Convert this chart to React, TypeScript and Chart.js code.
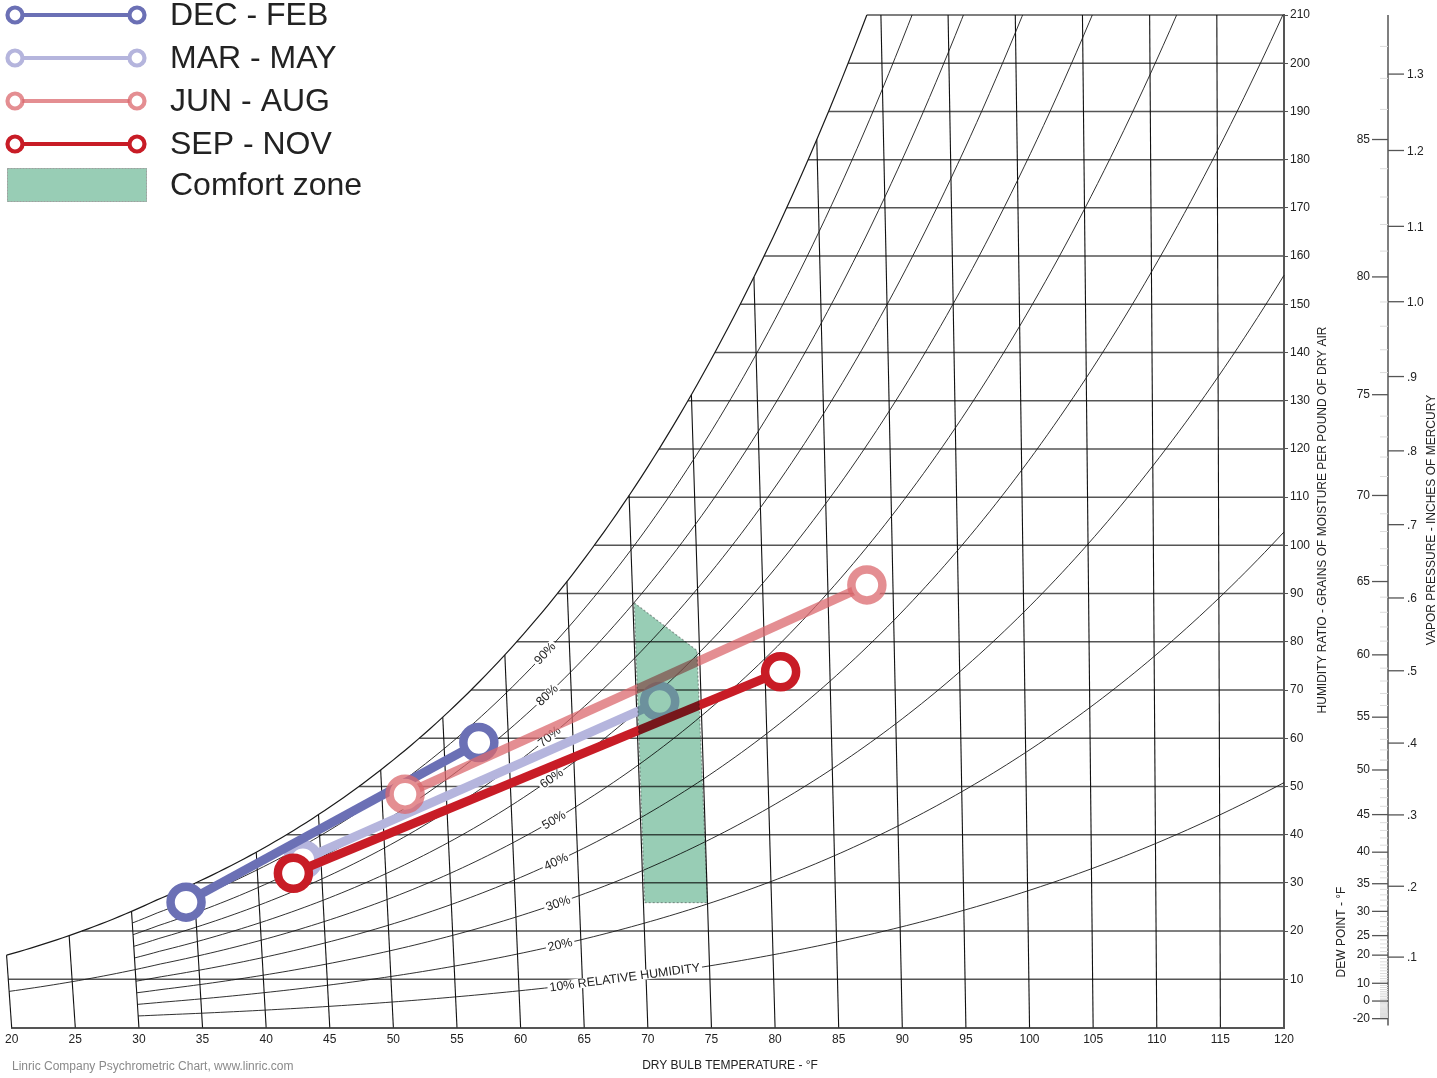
import React, { useEffect, useRef } from 'react';
import { Chart, registerables } from 'chart.js';

Chart.register(...registerables);

// ---------------- data ----------------
const SEASONS = ['DEC - FEB', 'MAR - MAY', 'JUN - AUG', 'SEP - NOV'];
const SEASON_COLORS = ['rgb(107,112,181)', 'rgb(181,181,221)', 'rgba(219,104,110,0.75)', 'rgb(200,28,38)'];
const SEASON_DRAW_ORDER = [3, 4, 2, 1];
// dry bulb (°F) and humidity ratio (grains/lb) of each season's two end points
const START_DRY_BULB = [34.3, 43.6, 51.8, 42.8];
const START_GRAINS = [26.0, 34.8, 48.4, 32.0];
const END_DRY_BULB = [57.7, 71.8, 88.0, 81.2];
const END_GRAINS = [59.1, 67.6, 91.8, 73.8];

const COMFORT_LABEL = 'Comfort zone';
const COMFORT_DRY_BULB = [70.1, 74.8, 75.0, 70.1];
const COMFORT_GRAINS = [88.1, 78.2, 25.9, 25.9];

// chart furniture
const DRY_BULB_LINES = [20, 25, 30, 35, 40, 45, 50, 55, 60, 65, 70, 75, 80, 85, 90, 95, 100, 105, 110, 115];
const GRAIN_LINES = [10, 20, 30, 40, 50, 60, 70, 80, 90, 100, 110, 120, 130, 140, 150, 160, 170, 180, 190, 200, 210];
const RH_CURVES = [10, 20, 30, 40, 50, 60, 70, 80, 90];
const RH_CURVE_START = [30, 30, 30, 30, 20, 30, 30, 30, 30];
const RH_LABEL_DRY_BULB = 62.4;
const DEW_POINT_TICKS = [-20, 0, 10, 20, 25, 30, 35, 40, 45, 50, 55, 60, 65, 70, 75, 80, 85];
const VAPOR_PRESSURE_TICKS = [0.1, 0.2, 0.3, 0.4, 0.5, 0.6, 0.7, 0.8, 0.9, 1.0, 1.1, 1.2, 1.3];

const T_MIN = 20;
const T_MAX = 120;
const W_MAX = 210;
const P_ATM = 14.696; // psia
const SKEW = 0.000267; // dry-bulb lines lean on this chart

const FONT = "'Liberation Sans', Arial, Helvetica, sans-serif";

// ---------------- psychrometrics ----------------
function satPressurePsia(tF: number): number {
  const T = tF + 459.67;
  if (tF < 32) {
    return Math.exp(
      -1.0214165e4 / T - 4.8932428 - 5.3765794e-3 * T + 1.9202377e-7 * T * T +
        3.5575832e-10 * T ** 3 - 9.0344688e-14 * T ** 4 + 4.1635019 * Math.log(T)
    );
  }
  return Math.exp(
    -1.0440397e4 / T - 1.129465e1 - 2.7022355e-2 * T + 1.289036e-5 * T * T -
      2.4780681e-9 * T ** 3 + 6.5459673 * Math.log(T)
  );
}
const grainsFromPw = (pw: number) => (7000 * 0.621945 * pw) / (P_ATM - pw);
const grainsAt = (tF: number, rh: number) => grainsFromPw(rh * satPressurePsia(tF));
function dewPoint(w: number): number {
  let lo = -60, hi = 130;
  for (let i = 0; i < 60; i++) {
    const mid = (lo + hi) / 2;
    if (grainsAt(mid, 1) < w) lo = mid; else hi = mid;
  }
  return (lo + hi) / 2;
}
const chartX = (tF: number, w: number) => tF - SKEW * (T_MAX - tF) * w;

function rhCurve(rh: number, tStart: number): [number, number][] {
  const pts: [number, number][] = [];
  const step = 0.5;
  for (let t = tStart; t <= T_MAX + 1e-9; t += step) {
    const w = grainsAt(t, rh);
    if (w > W_MAX) {
      let lo = t - step, hi = t;
      for (let i = 0; i < 40; i++) {
        const mid = (lo + hi) / 2;
        if (grainsAt(mid, rh) < W_MAX) lo = mid; else hi = mid;
      }
      pts.push([(lo + hi) / 2, W_MAX]);
      break;
    }
    pts.push([t, w]);
  }
  return pts;
}

// ---------------- drawing plugin ----------------
const psychroPlugin = {
  id: 'psychro',
  beforeDatasetsDraw(chart: any) {
    const { ctx } = chart;
    const xs = chart.scales.x, ys = chart.scales.y;
    const pt = (t: number, w: number): [number, number] => [xs.getPixelForValue(chartX(t, w)), ys.getPixelForValue(w)];
    ctx.save();

    // humidity-ratio lines
    ctx.strokeStyle = '#555';
    ctx.lineWidth = 1.5;
    for (const w of GRAIN_LINES) {
      const t0 = Math.max(dewPoint(w), T_MIN);
      const [x0, y0] = pt(t0, w);
      const [x1] = pt(T_MAX, w);
      ctx.beginPath();
      ctx.moveTo(x0, y0);
      ctx.lineTo(x1, y0);
      ctx.stroke();
    }

    // dry-bulb lines
    ctx.strokeStyle = '#111';
    ctx.lineWidth = 1.1;
    for (const t of DRY_BULB_LINES) {
      const wTop = Math.min(grainsAt(t, 1), W_MAX);
      const [x0, y0] = pt(t, 0);
      const [x1, y1] = pt(t, wTop);
      ctx.beginPath();
      ctx.moveTo(x0, y0);
      ctx.lineTo(x1, y1);
      ctx.stroke();
    }

    // relative humidity curves
    const drawCurve = (pts: [number, number][]) => {
      ctx.beginPath();
      pts.forEach(([t, w], i) => {
        const [x, y] = pt(t, w);
        if (i === 0) ctx.moveTo(x, y); else ctx.lineTo(x, y);
      });
      ctx.stroke();
    };
    ctx.strokeStyle = '#1a1a1a';
    ctx.lineWidth = 0.9;
    RH_CURVES.forEach((rh, i) => drawCurve(rhCurve(rh / 100, RH_CURVE_START[i])));
    // saturation curve
    ctx.lineWidth = 1.2;
    drawCurve(rhCurve(1, T_MIN));

    // RH labels
    ctx.font = `12.5px ${FONT}`;
    RH_CURVES.forEach((rh) => {
      const text = rh === 10 ? '10% RELATIVE HUMIDITY' : `${rh}%`;
      const tw = ctx.measureText(text).width;
      const [x0, y0] = pt(RH_LABEL_DRY_BULB, grainsAt(RH_LABEL_DRY_BULB, rh / 100));
      let t1 = RH_LABEL_DRY_BULB, x1 = x0, y1 = y0;
      while (Math.hypot(x1 - x0, y1 - y0) < tw && t1 < T_MAX) {
        t1 += 0.05;
        [x1, y1] = pt(t1, grainsAt(t1, rh / 100));
      }
      const ang = Math.atan2(y1 - y0, x1 - x0);
      ctx.save();
      ctx.translate(x0, y0);
      ctx.rotate(ang);
      ctx.fillStyle = '#fff';
      ctx.fillRect(-2, -5, tw + 4, 10);
      ctx.fillStyle = '#222';
      ctx.textAlign = 'left';
      ctx.textBaseline = 'middle';
      ctx.fillText(text, 0, 0.5);
      ctx.restore();
    });
    ctx.restore();
  },

  afterDatasetsDraw(chart: any) {
    const { ctx } = chart;
    const xs = chart.scales.x, ys = chart.scales.y;
    ctx.save();
    ctx.globalCompositeOperation = 'multiply';
    ctx.beginPath();
    COMFORT_DRY_BULB.forEach((t, i) => {
      const w = COMFORT_GRAINS[i];
      const x = xs.getPixelForValue(chartX(t, w));
      const y = ys.getPixelForValue(w);
      if (i === 0) ctx.moveTo(x, y); else ctx.lineTo(x, y);
    });
    ctx.closePath();
    ctx.fillStyle = 'rgb(152,205,181)';
    ctx.fill();
    ctx.setLineDash([2, 2]);
    ctx.strokeStyle = '#a9a9a9';
    ctx.lineWidth = 1.2;
    ctx.stroke();
    ctx.restore();
  },

  afterDraw(chart: any) {
    const { ctx, chartArea } = chart;
    const ys = chart.scales.y;
    ctx.save();

    // dew point / vapor pressure axis
    const ax = chartArea.right + 104;
    ctx.strokeStyle = '#555';
    ctx.lineWidth = 1.5;
    ctx.beginPath();
    ctx.moveTo(ax, chartArea.top);
    ctx.lineTo(ax, chartArea.bottom - 2);
    ctx.stroke();
    // minor dew point ticks
    ctx.strokeStyle = '#dcdcdc';
    ctx.lineWidth = 1;
    for (let td = -20; td <= 88; td++) {
      if (DEW_POINT_TICKS.includes(td)) continue;
      const y = ys.getPixelForValue(grainsAt(td, 1));
      if (y < chartArea.top) continue;
      ctx.beginPath();
      ctx.moveTo(ax - 8, y);
      ctx.lineTo(ax, y);
      ctx.stroke();
    }
    ctx.font = `12px ${FONT}`;
    ctx.fillStyle = '#222';
    ctx.textBaseline = 'middle';
    ctx.strokeStyle = '#555';
    ctx.lineWidth = 1.3;
    ctx.textAlign = 'right';
    for (const td of DEW_POINT_TICKS) {
      const y = ys.getPixelForValue(grainsAt(td, 1));
      ctx.beginPath();
      ctx.moveTo(ax - 16, y);
      ctx.lineTo(ax, y);
      ctx.stroke();
      ctx.fillText(String(td), ax - 18, y);
    }
    ctx.textAlign = 'left';
    for (const p of VAPOR_PRESSURE_TICKS) {
      const y = ys.getPixelForValue(grainsFromPw(p * 0.491154));
      ctx.beginPath();
      ctx.moveTo(ax, y);
      ctx.lineTo(ax + 16, y);
      ctx.stroke();
      const lab = p < 0.95 ? '.' + Math.round(p * 10) : p.toFixed(1);
      ctx.fillText(lab, ax + 19, y + 1);
    }

    // rotated axis titles
    const vText = (text: string, x: number, y: number) => {
      ctx.save();
      ctx.translate(x, y);
      ctx.rotate(-Math.PI / 2);
      ctx.textAlign = 'center';
      ctx.textBaseline = 'middle';
      ctx.fillText(text, 0, 0);
      ctx.restore();
    };
    ctx.fillStyle = '#222';
    vText('HUMIDITY RATIO - GRAINS OF MOISTURE PER POUND OF DRY AIR', chartArea.right + 39, 520);
    vText('DEW POINT - °F', ax - 46, 932);
    vText('VAPOR PRESSURE - INCHES OF MERCURY', ax + 44, 520);

    // bottom texts
    ctx.textAlign = 'center';
    ctx.textBaseline = 'middle';
    ctx.fillText('DRY BULB TEMPERATURE - °F', 730, 1066);
    ctx.textAlign = 'left';
    ctx.fillStyle = '#8a8a8a';
    ctx.fillText('Linric Company Psychrometric Chart, www.linric.com', 12, 1067);

    // legend
    ctx.font = `32px ${FONT}`;
    SEASONS.forEach((label, i) => {
      const y = 15 + i * 43;
      ctx.strokeStyle = SEASON_COLORS[i];
      ctx.lineWidth = 4;
      ctx.beginPath();
      ctx.moveTo(22, y);
      ctx.lineTo(130, y);
      ctx.stroke();
      for (const cx of [15, 137]) {
        ctx.beginPath();
        ctx.arc(cx, y, 7.5, 0, Math.PI * 2);
        ctx.fillStyle = '#fff';
        ctx.fill();
        ctx.lineWidth = 4.2;
        ctx.stroke();
      }
      ctx.fillStyle = '#222';
      ctx.textAlign = 'left';
      ctx.textBaseline = 'middle';
      ctx.fillText(label, 170, y + 1);
    });
    ctx.fillStyle = 'rgb(152,205,181)';
    ctx.fillRect(7, 168, 140, 34);
    ctx.setLineDash([2, 1]);
    ctx.strokeStyle = '#a0a0a0';
    ctx.lineWidth = 1;
    ctx.strokeRect(7.5, 168.5, 139, 33);
    ctx.setLineDash([]);
    ctx.fillStyle = '#222';
    ctx.fillText(COMFORT_LABEL, 170, 186);

    ctx.restore();
  },
};

export default function App() {
  const canvasRef = useRef<HTMLCanvasElement | null>(null);

  useEffect(() => {
    if (!canvasRef.current) return;
    const datasets = SEASONS.map((label, i) => ({
      label,
      data: [
        { x: chartX(START_DRY_BULB[i], START_GRAINS[i]), y: START_GRAINS[i] },
        { x: chartX(END_DRY_BULB[i], END_GRAINS[i]), y: END_GRAINS[i] },
      ],
      showLine: true,
      order: SEASON_DRAW_ORDER[i],
      borderColor: SEASON_COLORS[i],
      borderWidth: 9,
      pointRadius: 15.5,
      pointBorderWidth: 8.5,
      pointBorderColor: SEASON_COLORS[i],
      pointBackgroundColor: '#ffffff',
      clip: false,
    }));

    const chart = new Chart(canvasRef.current, {
      type: 'scatter',
      data: { datasets },
      options: {
        responsive: false,
        animation: false,
        events: [],
        layout: { autoPadding: false, padding: { left: 11, top: 15, right: 0, bottom: 0 } },
        plugins: { legend: { display: false }, tooltip: { enabled: false } },
        scales: {
          x: {
            type: 'linear',
            min: T_MIN,
            max: T_MAX,
            position: 'bottom',
            afterFit: (s: any) => { s.height = 50.5; },
            grid: { display: true, drawOnChartArea: false, drawTicks: false },
            border: { display: true, color: '#555', width: 2 },
            ticks: { stepSize: 5, autoSkip: false, maxRotation: 0, padding: 5, color: '#222', font: { size: 12, family: FONT } },
          },
          y: {
            type: 'linear',
            min: 0,
            max: W_MAX,
            position: 'right',
            afterFit: (s: any) => { s.width = 153; },
            afterBuildTicks: (s: any) => { s.ticks = s.ticks.filter((t: any) => t.value !== 0); },
            grid: { display: true, drawOnChartArea: false, drawTicks: true, tickLength: 4, color: '#555' },
            border: { display: true, color: '#555', width: 2 },
            ticks: { stepSize: 10, autoSkip: false, padding: 2, color: '#222', font: { size: 12, family: FONT } },
          },
        },
      },
      plugins: [psychroPlugin],
    } as any);
    return () => chart.destroy();
  }, []);

  return (
    <div style={{ position: 'fixed', left: 0, top: 0, width: 1437, height: 1078, background: '#fff' }}>
      <canvas ref={canvasRef} width={1437} height={1078} style={{ display: 'block' }} />
    </div>
  );
}
